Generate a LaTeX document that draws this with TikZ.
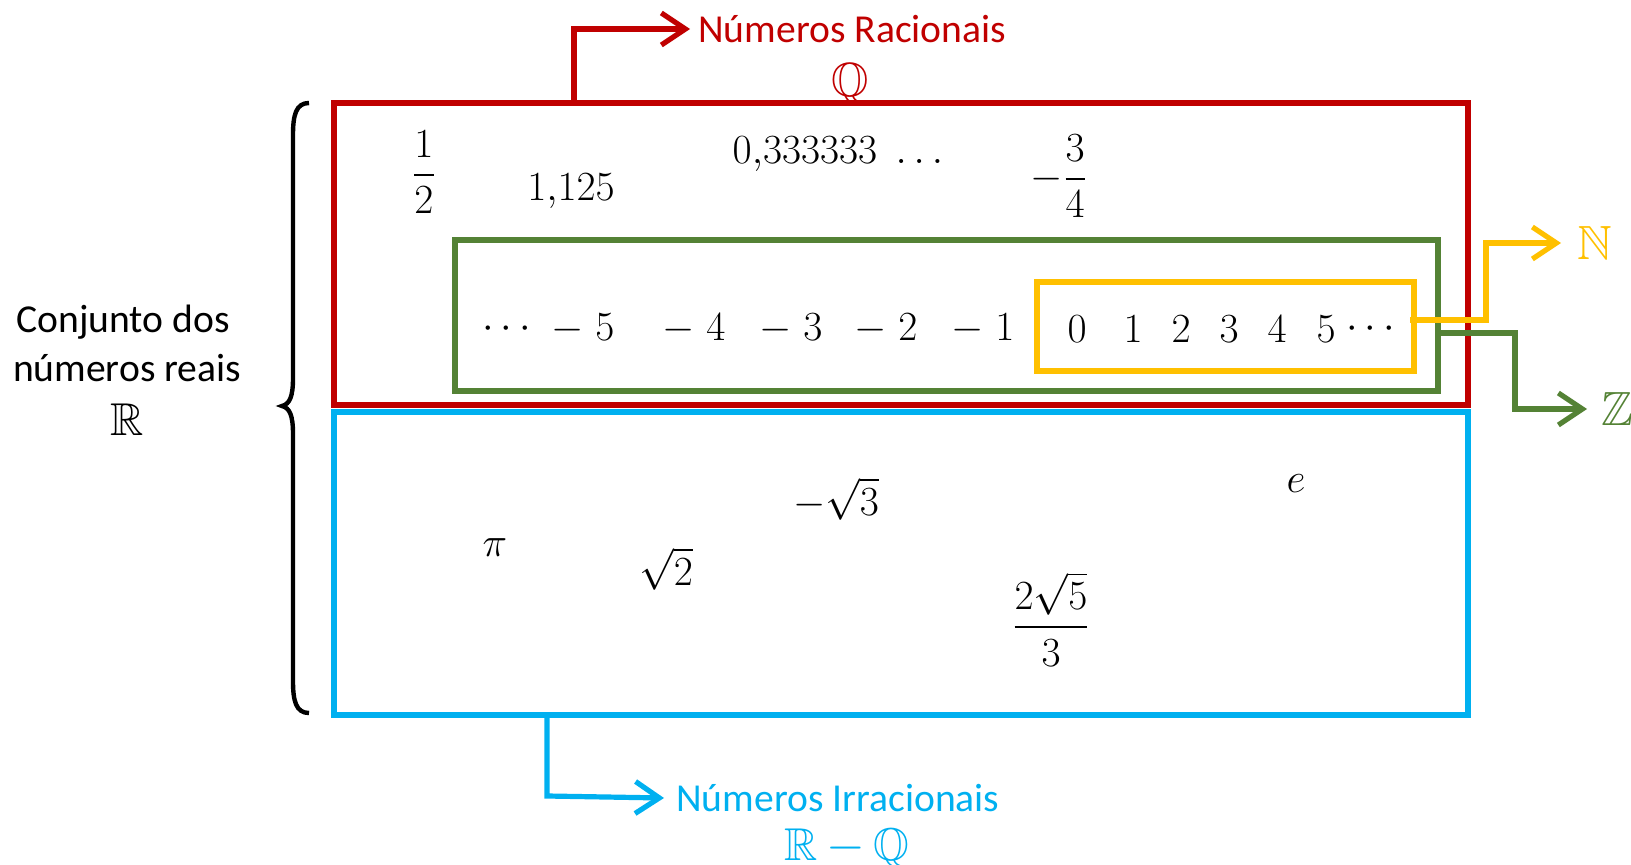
\documentclass[tikz,border=0pt]{standalone}
\usepackage{amsmath,amssymb}
\usepackage{fontspec}
\setmainfont{Carlito}
\usetikzlibrary{arrows.meta}
\definecolor{qred}{HTML}{C00000}
\definecolor{zgreen}{HTML}{548235}
\definecolor{nyellow}{HTML}{FFC000}
\definecolor{iblue}{HTML}{00B0F0}
\begin{document}
\begin{tikzpicture}[x=0.5pt,y=-0.5pt,
  every node/.style={font=\fontsize{19.8}{24}\selectfont, inner sep=0pt},
  setbox/.style={line width=2.6pt},
  conn/.style={line width=2.6pt, -{Straight Barb[length=12pt,width=16pt]}},
  num/.style={font=\fontsize{22}{26}\selectfont},
  big/.style={font=\fontsize{24}{28}\selectfont},
  mid/.style={font=\fontsize{23}{27}\selectfont}]
\useasboundingbox (0,0) rectangle (1631,865);
% boxes
\draw[setbox, qred] (334,103) rectangle (1468,405);
\draw[setbox, iblue] (334,412) rectangle (1468,715);
\draw[setbox, zgreen] (455,240) rectangle (1438,391);
\draw[setbox, nyellow] (1037,282) rectangle (1414,371);
% coordinates for connector starts
\coordinate (qstart) at (574,103);
\coordinate (istart) at (547,715);
\coordinate (nstart) at (1410,320);
\coordinate (zstart) at (1438,333);
% labels
\node[qred, anchor=west] (qlab) at (698,29) {Números Racionais};
\node[qred, big] (qsym) at (850,84) {$\mathbb{Q}$};
\node[iblue, anchor=west] (ilab) at (676,798) {Números Irracionais};
\node[iblue, mid] (isym) at (847,848) {$\mathbb{R}\,{-}\,\mathbb{Q}$};
\node[nyellow, big, anchor=west] (nsym) at (1577,243) {$\mathbb{N}$};
\node[zgreen, big, anchor=west] (zsym) at (1601,409) {$\mathbb{Z}$};
% connectors
\draw[conn, qred] (qstart) -- (574,29) -- ([xshift=-4pt]qlab.west);
\draw[conn, iblue] (istart) -- (547,796) -- ([xshift=-6pt]ilab.west);
\draw[conn, nyellow] (nstart) -- (1486,320) -- (1486,243) -- ([xshift=-8pt]nsym.west);
\draw[conn, zgreen] (zstart) -- (1515,333) -- (1515,409) -- ([xshift=-7pt]zsym.west);
% brace
\draw[line width=2.2pt] (309,103) .. controls (296,103) and (293,115) .. (293,135) -- (293,378)
  .. controls (293,396) and (290,404) .. (282,406) .. controls (290,408) and (293,416) .. (293,434)
  -- (293,681) .. controls (293,701) and (296,713) .. (309,713);
\node (rlab) at (123,322) {Conjunto dos};
\node (rlab2) at (127,368) {números reais};
\node[mid] (rsym) at (127,420) {$\mathbb{R}$};
% rationals
\node[num] (a1) at (424,172) {$\dfrac{1}{2}$};
\node[num] (a2) at (571,191) {$1{,}125$};
\node[num] (a3) at (838,154) {$0{,}333333\;\ldots$};
\node[num] (a4) at (1059,176) {$-\dfrac{3}{4}$};
% integers
\node[num] (i0) at (510,329) {$\cdots$};
\node[num] (i1) at (583,329) {$-\;5$};
\node[num] (i2) at (694,329) {$-\;4$};
\node[num] (i3) at (791,329) {$-\;3$};
\node[num] (i4) at (886,329) {$-\;2$};
\node[num] (i5) at (983,329) {$-\;1$};
\node[num] (n0) at (1077,329) {$0$};
\node[num] (n1) at (1133,329) {$1$};
\node[num] (n2) at (1181,329) {$2$};
\node[num] (n3) at (1229,329) {$3$};
\node[num] (n4) at (1277,329) {$4$};
\node[num] (n5) at (1326,329) {$5$};
\node[num] (n6) at (1374,329) {$\cdots$};
% irrationals
\node[num] (r1) at (495,548) {$\pi$};
\node[num] (r2) at (666,569) {$\sqrt{2}$};
\node[num] (r3) at (836,499) {$-\sqrt{3}$};
\node[num] (r4) at (1296,484) {$e$};
\node[num] (r5) at (1051,619) {$\dfrac{2\sqrt{5}}{3}$};
\end{tikzpicture}
\end{document}
